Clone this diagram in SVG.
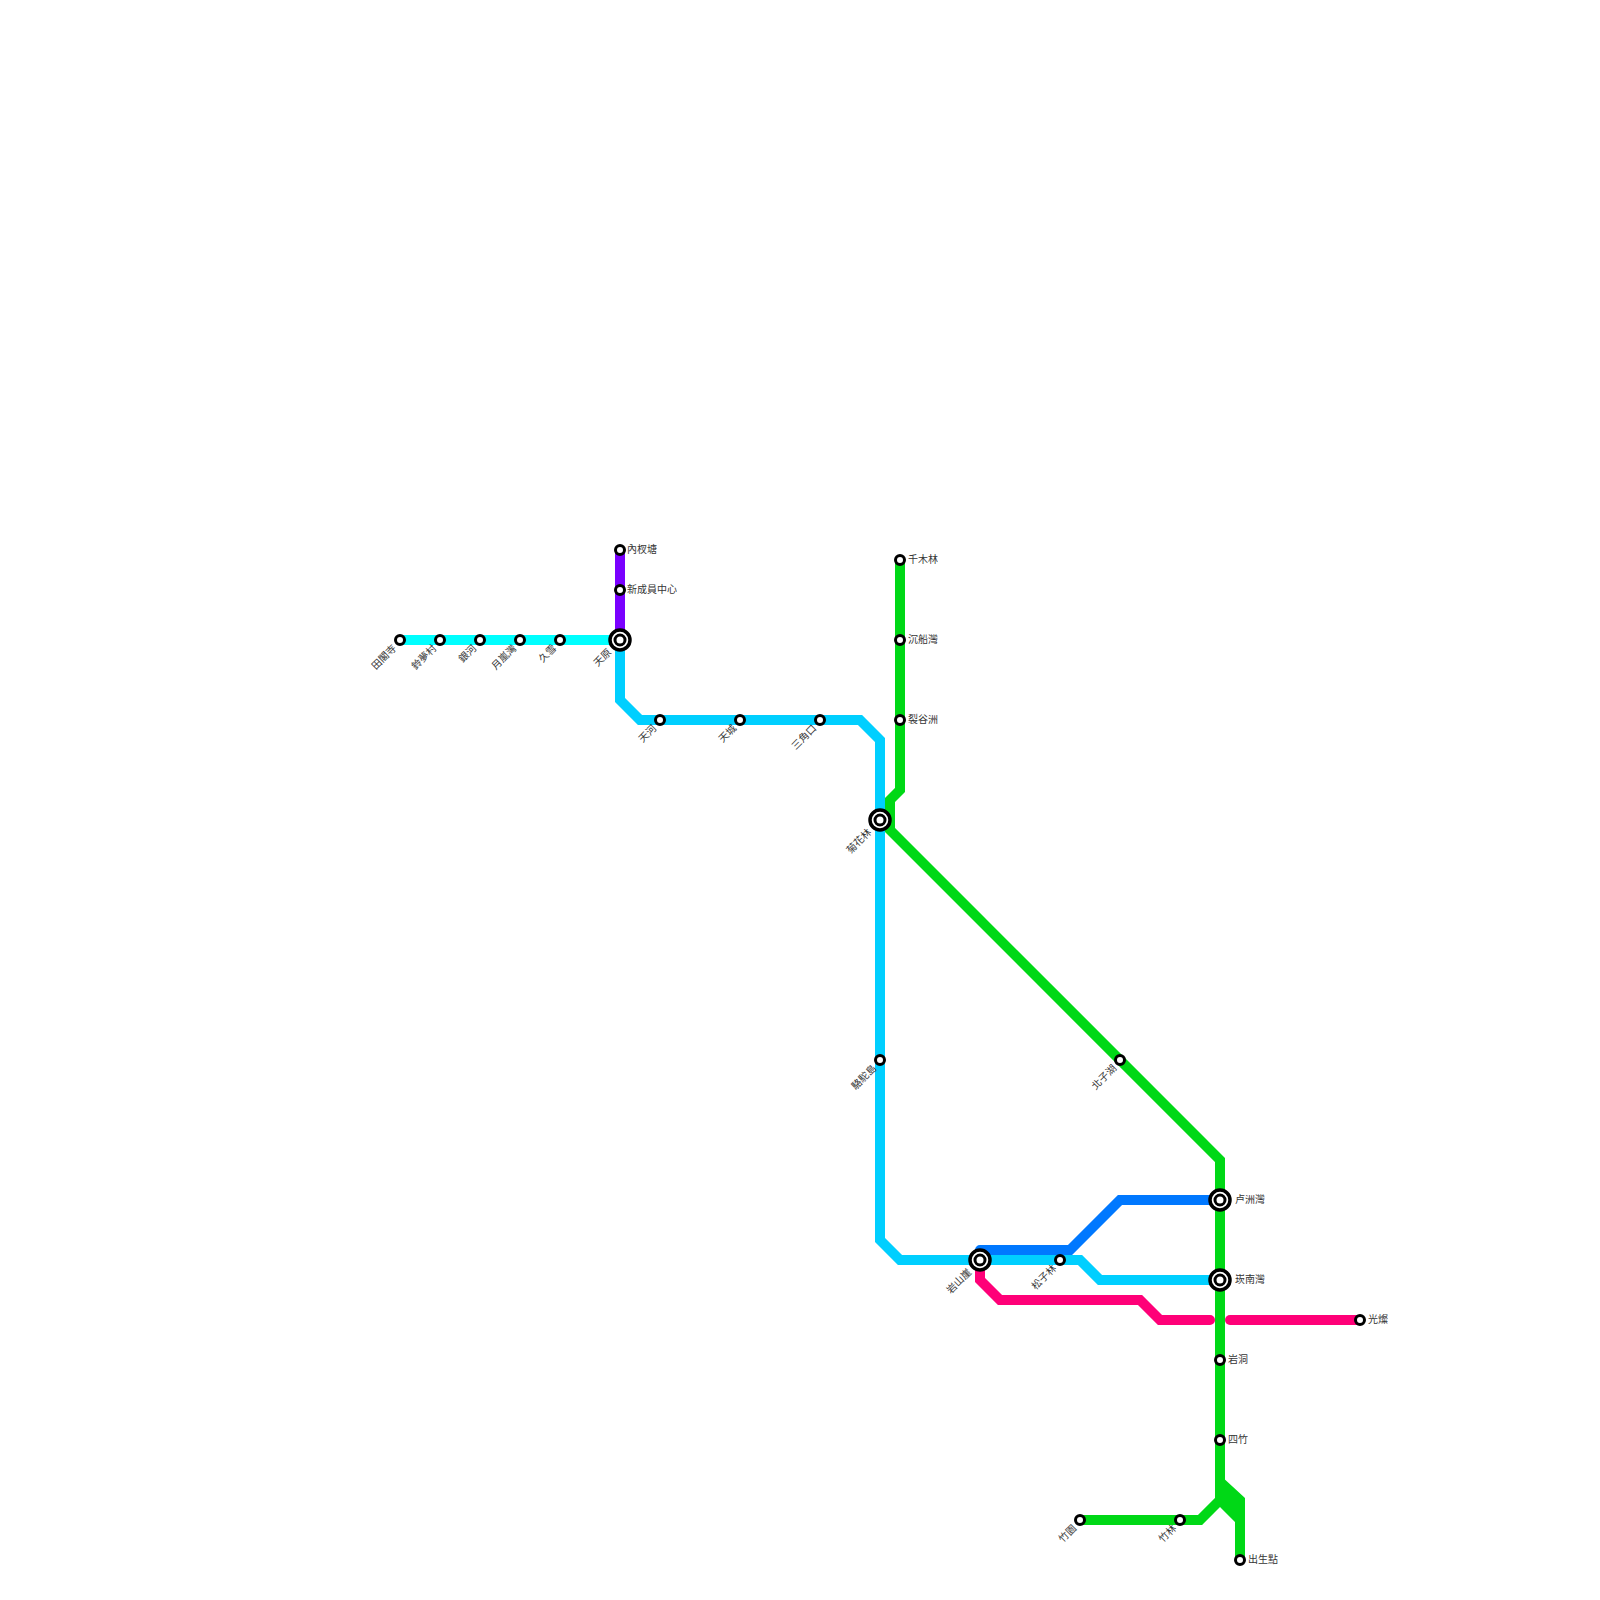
<svg xmlns="http://www.w3.org/2000/svg" width="1600" height="1600" viewBox="0 0 1600 1600">
<style>
.l{fill:none;stroke-width:10;stroke-linejoin:miter}
.s{fill:#fff;stroke:#000;stroke-width:3}
.o{stroke-width:3.5}
.r{stroke-width:3}
text{font-family:"Liberation Sans","Noto Sans CJK TC",sans-serif;font-size:10px;fill:#333;dominant-baseline:central;opacity:.99}
.a{text-anchor:end}
</style>
<g id="connectors">
<path class="l" stroke="#7a00ff" d="M620 550V640"/>
<path class="l" stroke="#00ffff" d="M400 640H620"/>
<path class="l" stroke="#ff0078" stroke-linecap="round" d="M980 1260V1280L1000 1300H1140L1160 1320H1210"/>
<path class="l" stroke="#ff0078" stroke-linecap="round" d="M1230 1320H1360"/>
<path class="l" stroke="#00d816" d="M900 560V790L890 800V830L1220 1160V1500L1200 1520H1080"/>
<path fill="#00d816" d="M1220 1475L1245 1498V1510H1235V1522L1220 1507Z"/>
<path class="l" stroke="#00d816" d="M1240 1500V1560"/>
<path class="l" stroke="#0078ff" stroke-linecap="round" d="M980 1250H1070L1120 1200H1220"/>
<path class="l" stroke="#00cfff" d="M620 640V700L640 720H860L880 740V1240L900 1260H1080L1100 1280H1220"/>
</g>
<g id="s1"><circle class="s" cx="400" cy="640" r="4.5"/><text class="a" transform="translate(394.5 646.5) rotate(-45)">田閣寺</text></g>
<g id="s2"><circle class="s" cx="440" cy="640" r="4.5"/><text class="a" transform="translate(434.5 646.5) rotate(-45)">鈴夢村</text></g>
<g id="s3"><circle class="s" cx="480" cy="640" r="4.5"/><text class="a" transform="translate(474.5 646.5) rotate(-45)">銀河</text></g>
<g id="s4"><circle class="s" cx="520" cy="640" r="4.5"/><text class="a" transform="translate(514.5 646.5) rotate(-45)">月嵐灣</text></g>
<g id="s5"><circle class="s" cx="560" cy="640" r="4.5"/><text class="a" transform="translate(554.5 646.5) rotate(-45)">久雪</text></g>
<g id="s6"><circle class="s" cx="620" cy="550" r="4.5"/><text x="627" y="549.5">內杈塘</text></g>
<g id="s7"><circle class="s" cx="620" cy="590" r="4.5"/><text x="627" y="589.5">新成員中心</text></g>
<g id="s8"><circle class="s o" cx="620" cy="640" r="10"/><circle class="s r" cx="620" cy="640" r="5"/><text class="a" transform="translate(609.5 650.5) rotate(-45)">天原</text></g>
<g id="s9"><circle class="s" cx="660" cy="720" r="4.5"/><text class="a" transform="translate(654.5 726.5) rotate(-45)">天河</text></g>
<g id="s10"><circle class="s" cx="740" cy="720" r="4.5"/><text class="a" transform="translate(734.5 726.5) rotate(-45)">天城</text></g>
<g id="s11"><circle class="s" cx="820" cy="720" r="4.5"/><text class="a" transform="translate(814.5 726.5) rotate(-45)">三角口</text></g>
<g id="s12"><circle class="s" cx="900" cy="560" r="4.5"/><text x="908" y="559.5">千木林</text></g>
<g id="s13"><circle class="s" cx="900" cy="640" r="4.5"/><text x="908" y="639.5">沉船灣</text></g>
<g id="s14"><circle class="s" cx="900" cy="720" r="4.5"/><text x="908" y="719.5">裂谷洲</text></g>
<g id="s15"><circle class="s o" cx="880" cy="820" r="10"/><circle class="s r" cx="880" cy="820" r="5"/><text class="a" transform="translate(869.5 830.5) rotate(-45)">菊花林</text></g>
<g id="s16"><circle class="s" cx="880" cy="1060" r="4.5"/><text class="a" transform="translate(874.5 1066.5) rotate(-45)">駱駝島</text></g>
<g id="s17"><circle class="s" cx="1120" cy="1060" r="4.5"/><text class="a" transform="translate(1114.5 1066.5) rotate(-45)">北子湖</text></g>
<g id="s18"><circle class="s o" cx="980" cy="1260" r="10"/><circle class="s r" cx="980" cy="1260" r="5"/><text class="a" transform="translate(969.5 1270.5) rotate(-45)">岩山崖</text></g>
<g id="s19"><circle class="s" cx="1060" cy="1260" r="4.5"/><text class="a" transform="translate(1054.5 1266.5) rotate(-45)">松子林</text></g>
<g id="s20"><circle class="s o" cx="1220" cy="1200" r="10"/><circle class="s r" cx="1220" cy="1200" r="5"/><text x="1235" y="1199.5">卢洲灣</text></g>
<g id="s21"><circle class="s o" cx="1220" cy="1280" r="10"/><circle class="s r" cx="1220" cy="1280" r="5"/><text x="1235" y="1279.5">崁南灣</text></g>
<g id="s22"><circle class="s" cx="1360" cy="1320" r="4.5"/><text x="1368" y="1319.5">光燦</text></g>
<g id="s23"><circle class="s" cx="1220" cy="1360" r="4.5"/><text x="1228" y="1359.5">岩洞</text></g>
<g id="s24"><circle class="s" cx="1220" cy="1440" r="4.5"/><text x="1228" y="1439.5">四竹</text></g>
<g id="s25"><circle class="s" cx="1080" cy="1520" r="4.5"/><text class="a" transform="translate(1074.5 1526.5) rotate(-45)">竹園</text></g>
<g id="s26"><circle class="s" cx="1180" cy="1520" r="4.5"/><text class="a" transform="translate(1174.5 1526.5) rotate(-45)">竹林</text></g>
<g id="s27"><circle class="s" cx="1240" cy="1560" r="4.5"/><text x="1248" y="1559.5">出生點</text></g>
</svg>
